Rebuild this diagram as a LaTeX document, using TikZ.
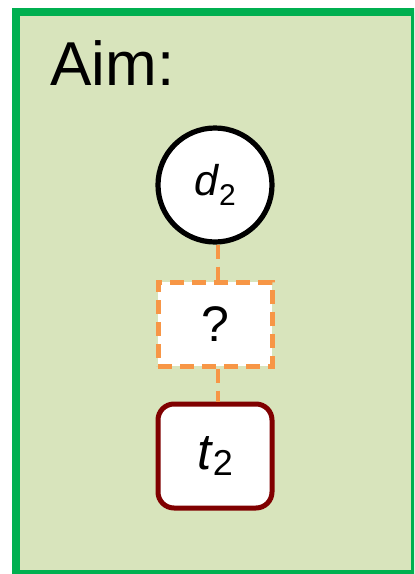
\documentclass[tikz,border=0pt]{standalone}
\usepackage{fontspec}
\setmainfont{Liberation Sans}
\usetikzlibrary{arrows}
\definecolor{aimfill}{RGB}{216,228,188}
\definecolor{aimframe}{RGB}{0,176,80}
\definecolor{unknown}{RGB}{247,150,70}
\definecolor{target}{RGB}{128,0,0}
\tikzstyle{panel} = [draw=aimframe, fill=aimfill, line width=4pt]
\tikzstyle{var} = [circle, draw=black, fill=white, line width=2.6pt,
  minimum size=57pt, inner sep=0pt, font=\fontsize{21.5}{22}\selectfont]
\tikzstyle{missing} = [rectangle, draw=unknown, fill=white, line width=2.5pt,
  dash pattern=on 7pt off 4pt, minimum width=57pt, minimum height=42pt,
  font=\fontsize{25}{25}\selectfont]
\tikzstyle{goal} = [rectangle, rounded corners=8pt, draw=target, fill=white,
  line width=2.5pt, minimum width=57pt, minimum height=52pt,
  font=\fontsize{25.5}{26}\selectfont]
\tikzstyle{link} = [draw=unknown, line width=2pt, dash pattern=on 7pt off 4pt]
% italic letter with a lowered index: size of index, drop, letter, index
\newcommand{\lowidx}[4]{\textit{#3}\raisebox{-#2}{\fontsize{#1}{#1}\selectfont #4}}

\begin{document}
\begin{tikzpicture}[x=0.5pt,y=-0.5pt]
  \useasboundingbox (0,0) rectangle (414,574);
  \clip (0,0) rectangle (414,574);

  % frame and title
  \path[panel] (16,12) rectangle (415,574);
  \node[anchor=base west, inner sep=0pt, font=\fontsize{31}{32}\selectfont]
    (aim) at (50,85) {Aim:};

  % variables
  \node[var] (d2) at (215,185) {\lowidx{15pt}{5pt}{d}{2}};
  \path (d2.center)+(0,139) node[missing] (q) {?};
  \path (q.center)+(0,132) node[goal] (t2) {\lowidx{18pt}{3pt}{t}{2}};

  % dashed links, a little right of the centre line
  \path[link] ([xshift=1.5pt]d2.south) -- ([xshift=1.5pt]q.north);
  \path[link] ([xshift=1.5pt]q.south) -- ([xshift=1.5pt]t2.north);
\end{tikzpicture}
\end{document}
